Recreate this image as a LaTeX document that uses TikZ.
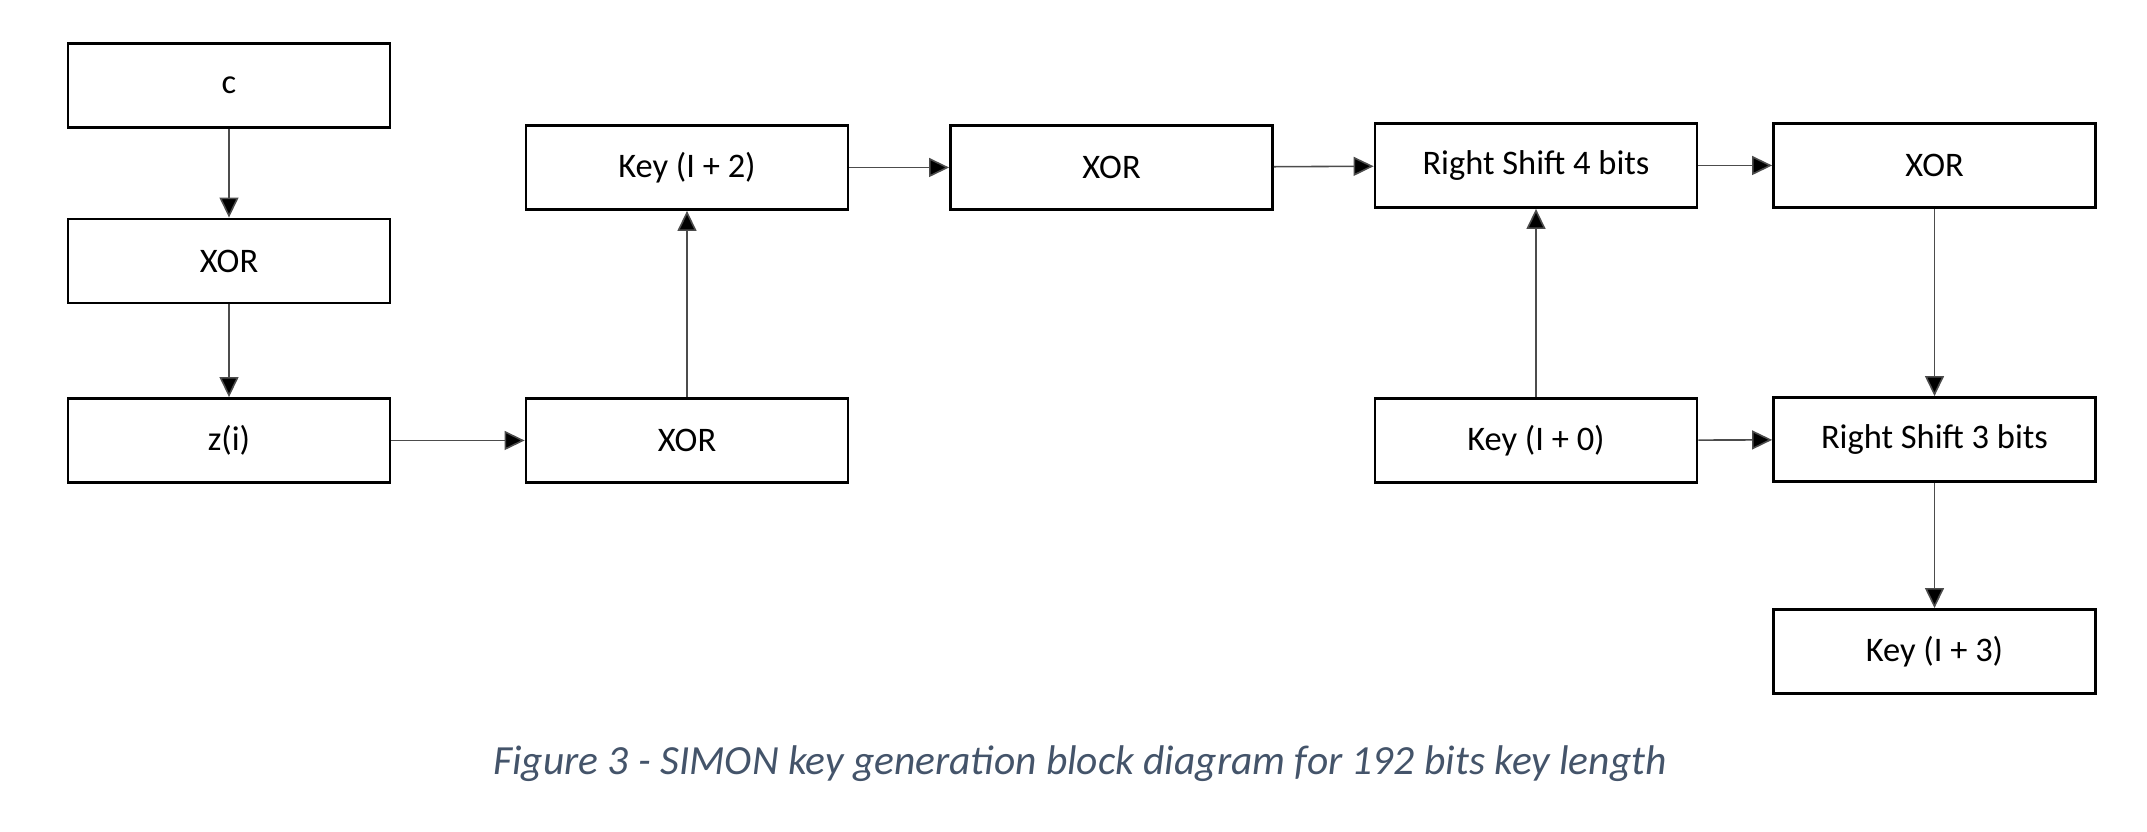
\documentclass[tikz,border=0pt]{standalone}
\usepackage{fontspec}
\setmainfont{Carlito}
\usetikzlibrary{arrows.meta, math}
\definecolor{capblue}{RGB}{68,84,106}

\begin{document}
\begin{tikzpicture}[scale=1,
blk/.style={draw, line width=0.8pt, minimum width=\w cm, minimum height=\h cm, inner sep=0pt, font=\fontsize{9.8}{11}\selectfont},
arr/.style={-{Triangle[length=5.7pt,width=5.4pt,fill=black]}, line width=0.45pt, draw=black!70}]
\tikzmath{
\w=3.22;
\h=0.84;
}
\useasboundingbox (0,0) rectangle (21.47,8.32);

%%%%%%%%%%   left column
\node[blk] (c) at (2.29,7.465) {c};
\node[blk] (xorA) at (2.29,5.71) {XOR};
\node[blk] (zi) at (2.29,3.915) {z(i)};

\node[blk] (xorB) at (6.87,3.915) {XOR};
\node[blk] (keyB) at (6.87,6.645) {Key (I + 2)};
\node[blk] (xorC) at (11.115,6.645) {XOR};

%%%%%%%%%%   right part
\node[blk] (shiftA) at (15.36,6.665) {Right Shift 4 bits};
\node[blk] (xorD) at (19.345,6.665) {XOR};
\node[blk] (keyA) at (15.36,3.915) {Key (I + 0)};
\node[blk] (shiftB) at (19.345,3.925) {Right Shift 3 bits};
\node[blk] (keyC) at (19.345,1.805) {Key (I + 3)};

\draw[arr] (c) -- (xorA);
\draw[arr] (xorA) -- (zi);
\draw[arr] (zi) -- (xorB);
\draw[arr] (xorB) -- (keyB);
\draw[arr] (keyB) -- (xorC);
\draw[arr] (xorC) -- (shiftA);
\draw[arr] (keyA) -- (shiftA);
\draw[arr] (shiftA) -- (xorD);
\draw[arr] (xorD) -- (shiftB);
\draw[arr] (keyA) -- (shiftB);
\draw[arr] (shiftB) -- (keyC);

\node[text=capblue, font=\itshape\fontsize{11.8}{13}\selectfont] (cap) at (10.8,0.68) {Figure 3 - SIMON key generation block diagram for 192 bits key length};
\end{tikzpicture}
\end{document}
